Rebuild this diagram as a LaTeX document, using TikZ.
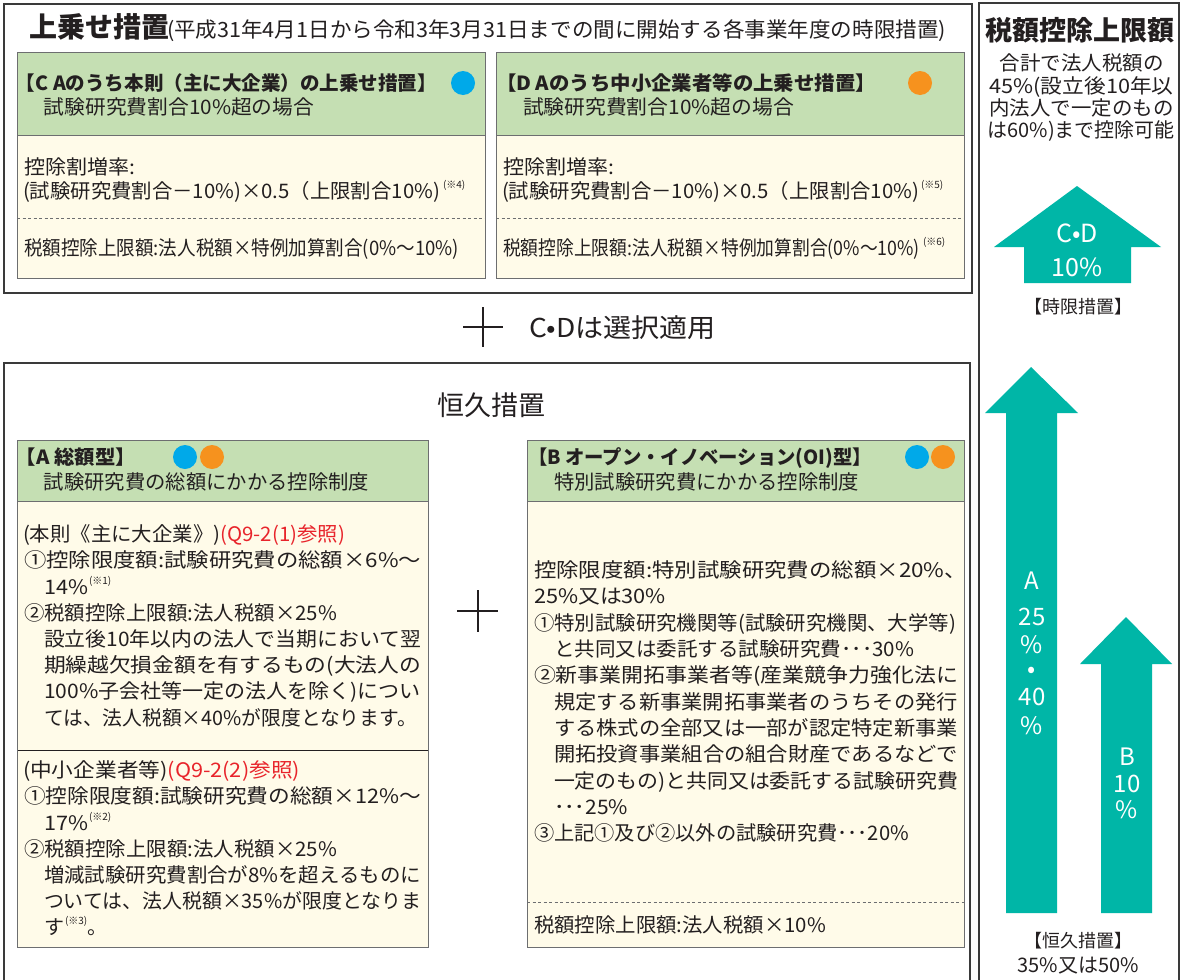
\documentclass[tikz,border=0pt]{standalone}
\usepackage{fontspec}
\setmainfont{Noto Sans CJK JP}
\definecolor{ink}{HTML}{231F20}
\definecolor{hdr}{HTML}{C5DFB3}
\definecolor{cream}{HTML}{FFFBE9}
\definecolor{arrowteal}{HTML}{00B6A7}
\definecolor{dotblue}{HTML}{00A9E9}
\definecolor{dotorange}{HTML}{F6921E}
\definecolor{refred}{HTML}{E8242B}
\definecolor{boxline}{HTML}{6D6E70}
\definecolor{framec}{HTML}{3A3A3A}
\newcommand\fbody{\fontsize{20}{26.2}\selectfont}
\newcommand\fhead{\fontsize{19.5}{24}\selectfont}
\newcommand\refmk[1]{\smash{\raisebox{0.5em}{\fontsize{10}{10}\selectfont #1}}}
\newcommand\fitw[2]{\resizebox{#1pt}{\height}{#2}}
\begin{document}
\begin{tikzpicture}[x=1pt,y=-1pt,
  txt/.style={anchor=base west,inner sep=0pt,outer sep=0pt,text=ink,font=\fbody},
  ctxt/.style={txt,anchor=base},
  hdrtxt/.style={txt,font=\fhead\bfseries},
  wtxt/.style={anchor=base,inner sep=0pt,outer sep=0pt,text=white,font=\fontsize{25}{25}\selectfont},
  atxt/.style={wtxt,font=\fontsize{24}{24}\selectfont},
  panel/.style={draw=boxline,line width=1pt},
  frameline/.style={draw=framec,line width=1.4pt},
  dashline/.style={draw=boxline,line width=0.9pt,dash pattern=on 3pt off 2.5pt},
  bigarrow/.style={fill=arrowteal,draw=none},
  cross/.style={draw=ink,line width=2.6pt}]

\useasboundingbox (0,0) rectangle (1181,980);
\fill[white] (0,0) rectangle (1181,980);

% ---------- outer frames
\draw[frameline] (4,4) rectangle (972,293);
\draw[frameline] (979,992) |- (1179,3) -- (1179,992);
\draw[frameline] (4,992) |- (970,363) -- (970,992);

% ---------- title
\node[txt,font=\fontsize{28}{28}\selectfont\bfseries] (title) at (29,37) {上乗せ措置};
\node[txt,font=\fontsize{21}{21}\selectfont] (titleP) at (167,37) {\fitw{779}{(平成31年4月1日から令和3年3月31日までの間に開始する各事業年度の時限措置)}};

% ---------- C box
\fill[cream] (17,135) rectangle (485,278);
\fill[hdr] (17,52) rectangle (485,135);
\draw[dashline] (17,218) -- (485,218);
\draw[panel] (17,135) -- (485,135);
\draw[panel] (17,52) rectangle (485,278);
\fill[dotblue] (463,83) circle (12pt);
\node[hdrtxt] (cT) at (16,90.5) {\fitw{421}{【C Aのうち本則（主に大企業）の上乗せ措置】}};
\node[txt] (cS) at (44,114.5) {\fitw{270}{試験研究費割合10\%超の場合}};
\node[txt] (cR) at (24,174.5) {\fitw{111}{控除割増率:}};
\node[txt] (cF) at (23,198) {\fitw{417}{(試験研究費割合－10\%)×0.5（上限割合10\%)}\kern3pt\refmk{(※4)}};
\node[txt] (cL) at (24,255.5) {\fitw{435}{税額控除上限額:法人税額×特例加算割合(0\%〜10\%)}};

% ---------- D box
\fill[cream] (496,135) rectangle (964,278);
\fill[hdr] (496,52) rectangle (964,135);
\draw[dashline] (496,218) -- (964,218);
\draw[panel] (496,135) -- (964,135);
\draw[panel] (496,52) rectangle (964,278);
\fill[dotorange] (920,83) circle (12pt);
\node[hdrtxt] (dT) at (496,90.5) {\fitw{380}{【D Aのうち中小企業者等の上乗せ措置】}};
\node[txt] (dS) at (523,114.5) {\fitw{271}{試験研究費割合10\%超の場合}};
\node[txt] (dR) at (503,174.5) {\fitw{111}{控除割増率:}};
\node[txt] (dF) at (502,198) {\fitw{417}{(試験研究費割合－10\%)×0.5（上限割合10\%)}\kern2pt\refmk{(※5)}};
\node[txt] (dL) at (503,255.5) {\fitw{417}{税額控除上限額:法人税額×特例加算割合(0\%〜10\%)}\kern3pt\refmk{(※6)}};

% ---------- middle
\draw[cross] (463,327) -- (503,327) (483,307) -- (483,347);
\node[txt,font=\fontsize{26}{26}\selectfont] (sel) at (529,337) {\fitw{187}{C•Dは選択適用}};

% ---------- permanent
\node[ctxt,font=\fontsize{27}{27}\selectfont] (perm) at (491,415) {恒久措置};

% A box
\fill[cream] (17,501) rectangle (428,947);
\fill[hdr] (17,440) rectangle (428,501);
\draw[panel] (17,501) -- (428,501);
\draw[draw=ink,line width=1pt] (17,750) -- (428,750);
\draw[panel] (17,440) rectangle (428,947);
\fill[dotblue] (185,457) circle (12pt);
\fill[dotorange] (212,457) circle (12pt);
\node[hdrtxt] (aT) at (16,464.5) {\fitw{120}{【A 総額型】}};
\node[txt] (aS) at (44,489.5) {\fitw{325}{試験研究費の総額にかかる控除制度}};
\node[txt] (a1) at (23,541.6) {\fitw{322}{(本則《主に大企業》)\textcolor{refred}{(Q9-2(1)参照)}}};
\node[txt] (a2) at (24,567.8) {\fitw{397}{①控除限度額:試験研究費の総額×6\%〜}};
\node[txt] (a3) at (44,594) {\fitw{44}{14\%}\kern1pt\refmk{(※1)}};
\node[txt] (a4) at (24,620.2) {\fitw{313}{②税額控除上限額:法人税額×25\%}};
\node[txt] (a5) at (44,646.4) {\fitw{377}{設立後10年以内の法人で当期において翌}};
\node[txt] (a6) at (44,672.6) {\fitw{377}{期繰越欠損金額を有するもの(大法人の}};
\node[txt] (a7) at (44,698.8) {\fitw{377}{100\%子会社等一定の法人を除く)につい}};
\node[txt] (a8) at (44,725) {\fitw{373}{ては、法人税額×40\%が限度となります。}};
\node[txt] (a9) at (23,777.6) {\fitw{277}{(中小企業者等)\textcolor{refred}{(Q9-2(2)参照)}}};
\node[txt] (a10) at (24,803.8) {\fitw{397}{①控除限度額:試験研究費の総額×12\%〜}};
\node[txt] (a11) at (44,830) {\fitw{44}{17\%}\kern1pt\refmk{(※2)}};
\node[txt] (a12) at (24,856.2) {\fitw{313}{②税額控除上限額:法人税額×25\%}};
\node[txt] (a13) at (44,882.4) {\fitw{377}{増減試験研究費割合が8\%を超えるものに}};
\node[txt] (a14) at (44,908.6) {\fitw{377}{ついては、法人税額×35\%が限度となりま}};
\node[txt] (a15) at (44,934.8) {す\kern1pt\refmk{(※3)}。};

\draw[cross] (457,611) -- (498,611) (478,590) -- (478,632);

% B box
\fill[cream] (527,501) rectangle (964,947);
\fill[hdr] (527,440) rectangle (964,501);
\draw[panel] (527,501) -- (964,501);
\draw[dashline] (527,902) -- (964,902);
\draw[panel] (527,440) rectangle (964,947);
\fill[dotblue] (917,457) circle (12pt);
\fill[dotorange] (943,457) circle (12pt);
\node[hdrtxt] (bT) at (528,464.5) {\fitw{344}{【B オープン・イノベーション(OI)型】}};
\node[txt] (bS) at (554,489.5) {\fitw{305}{特別試験研究費にかかる控除制度}};
\node[txt] (b1) at (534,577.6) {\fitw{433}{控除限度額:特別試験研究費の総額×20\%、}};
\node[txt] (b2) at (534,603.9) {\fitw{132}{25\%又は30\%}};
\node[txt] (b3) at (534,630.2) {\fitw{422}{①特別試験研究機関等(試験研究機関、大学等)}};
\node[txt] (b4) at (554,656.5) {\fitw{360}{と共同又は委託する試験研究費･･･30\%}};
\node[txt] (b5) at (534,682.8) {\fitw{424}{②新事業開拓事業者等(産業競争力強化法に}};
\node[txt] (b6) at (554,709.1) {\fitw{404}{規定する新事業開拓事業者のうちその発行}};
\node[txt] (b7) at (554,735.4) {\fitw{404}{する株式の全部又は一部が認定特定新事業}};
\node[txt] (b8) at (554,761.7) {\fitw{404}{開拓投資事業組合の組合財産であるなどで}};
\node[txt] (b9) at (554,788) {\fitw{404}{一定のもの)と共同又は委託する試験研究費}};
\node[txt] (b10) at (554,814.3) {\fitw{74}{･･･25\%}};
\node[txt] (b11) at (534,840.6) {\fitw{375}{③上記①及び②以外の試験研究費･･･20\%}};
\node[txt] (bL) at (534,932.6) {\fitw{292}{税額控除上限額:法人税額×10\%}};

% ---------- right column
\node[ctxt,font=\fontsize{27}{27}\selectfont\bfseries] (rT) at (1080,40) {税額控除上限額};
\node[ctxt] (r1) at (1081.5,70.3) {\fitw{164}{合計で法人税額の}};
\node[ctxt] (r2) at (1081.5,93.6) {\fitw{184}{45\%(設立後10年以}};
\node[ctxt] (r3) at (1081.5,115) {\fitw{184}{内法人で一定のもの}};
\node[ctxt] (r4) at (1081,137.6) {\fitw{187}{は60\%)まで控除可能}};

% C.D arrow
\fill[bigarrow] (1077,186) -- (1161,247) -- (1131,247) -- (1131,283) -- (1024,283) -- (1024,247) -- (994,247) -- cycle;
\node[wtxt] (cdA) at (1077,242) {C•D};
\node[wtxt] (cdB) at (1077,276) {10\%};
\node[ctxt,font=\fontsize{18}{18}\selectfont] (tl) at (1078,313.5) {【時限措置】};

% A arrow
\fill[bigarrow] (1031,367) -- (1078,413) -- (1057,413) -- (1057,913) -- (1006,913) -- (1006,413) -- (985,413) -- cycle;
\node[atxt] (aa1) at (1032,589) {A};
\node[atxt] (aa2) at (1032,625) {25};
\node[atxt] (aa3) at (1032,653) {\%};
\node[atxt] (aa4) at (1032,677) {•};
\node[atxt] (aa5) at (1032,705) {40};
\node[atxt] (aa6) at (1032,734) {\%};

% B arrow
\fill[bigarrow] (1126,617) -- (1172,664) -- (1152,664) -- (1152,913) -- (1101,913) -- (1101,664) -- (1080,664) -- cycle;
\node[atxt] (bb1) at (1127,765) {B};
\node[atxt] (bb2) at (1127,792) {10};
\node[atxt] (bb3) at (1127,818) {\%};

\node[ctxt,font=\fontsize{18}{18}\selectfont] (pl1) at (1078,947) {【恒久措置】};
\node[ctxt,font=\fontsize{20}{20}\selectfont] (pl2) at (1078,972.6) {35\%又は50\%};
\end{tikzpicture}
\end{document}
